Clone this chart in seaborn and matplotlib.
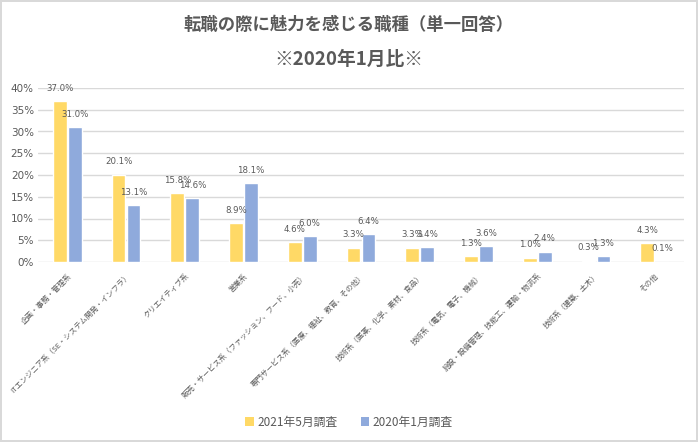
import pandas as pd
import matplotlib
matplotlib.use('Agg')
import matplotlib.pyplot as plt
import seaborn as sns
from matplotlib.patches import Patch

# data
categories = [
    '企画・事務・管理系',
    'ITエンジニア系（SE・システム開発・インフラ）',
    'クリエイティブ系',
    '営業系',
    '販売・サービス系（ファッション、フード、小売）',
    '専門サービス系（医療、福祉、教育、その他）',
    '技術系（医薬、化学、素材、食品）',
    '技術系（電気、電子、機械）',
    '施設・設備管理、技能工、運輸・物流系',
    '技術系（建築、土木）',
    'その他',
]
survey_2021 = [37.0, 20.1, 15.8, 8.9, 4.6, 3.3, 3.3, 1.3, 1.0, 0.3, 4.3]
survey_2020 = [31.0, 13.1, 14.6, 18.1, 6.0, 6.4, 3.4, 3.6, 2.4, 1.3, 0.1]
series_names = ['2021年5月調査', '2020年1月調査']
yticks = [0, 5, 10, 15, 20, 25, 30, 35, 40]

palette = {series_names[0]: '#FFD966', series_names[1]: '#8FAADC'}
text_gray = '#595959'

df = pd.DataFrame({
    'category': categories * 2,
    'value': survey_2021 + survey_2020,
    'series': [series_names[0]] * len(categories) + [series_names[1]] * len(categories),
})

sns.set_style('white')
plt.rcParams['font.family'] = ['Noto Sans CJK JP', 'DejaVu Sans']

fig = plt.figure(figsize=(6.98, 4.42), dpi=100)
fig.patch.set_edgecolor('#D9D9D9')
fig.patch.set_linewidth(1.5)
ax = fig.add_axes([38 / 698, 1 - 262 / 442, (684 - 38) / 698, (262 - 88) / 442])

sns.barplot(data=df, x='category', y='value', hue='series', palette=palette,
            width=0.51, gap=0.08, ax=ax, legend=False, saturation=1)

# data labels above each bar
for container in ax.containers:
    ax.bar_label(container, fmt='%.1f%%', padding=6, fontsize=6.2, color=text_gray,
                 family='DejaVu Sans')

ax.set_ylim(0, 40)
ax.set_xlim(-0.5, len(categories) - 0.5)
ax.set_yticks(yticks)
ax.set_yticklabels([f'{t}%' for t in yticks], fontsize=7.5, color=text_gray,
                   family='DejaVu Sans')
ax.yaxis.grid(True, color='#D9D9D9', linewidth=1)
ax.set_axisbelow(True)
for side in ['top', 'right', 'left', 'bottom']:
    ax.spines[side].set_visible(False)
ax.tick_params(axis='both', length=0, pad=3)
ax.set_xlabel('')
ax.set_ylabel('')

ax.set_xticks(range(len(categories)))
ax.set_xticklabels(categories, rotation=45, ha='right', va='top',
                   rotation_mode='anchor', fontsize=5.4, color=text_gray)
ax.tick_params(axis='x', pad=7)

fig.text(0.5, 1 - 25 / 442, '転職の際に魅力を感じる職種（単一回答）', ha='center', va='center',
         fontsize=12.5, fontweight='bold', color=text_gray)
fig.text(0.5, 1 - 59 / 442, '※2020年1月比※', ha='center', va='center',
         fontsize=13.5, fontweight='bold', color=text_gray)

handles = [Patch(facecolor=palette[n], edgecolor='none', label=n) for n in series_names]
fig.legend(handles=handles, loc='center', bbox_to_anchor=(0.5, 1 - 422 / 442), ncol=2,
           frameon=False, fontsize=8.5, labelcolor=text_gray, handlelength=0.7,
           handleheight=0.7, handletextpad=0.3, columnspacing=2.0)

fig.savefig('out.png', dpi=100)
plt.close(fig)
